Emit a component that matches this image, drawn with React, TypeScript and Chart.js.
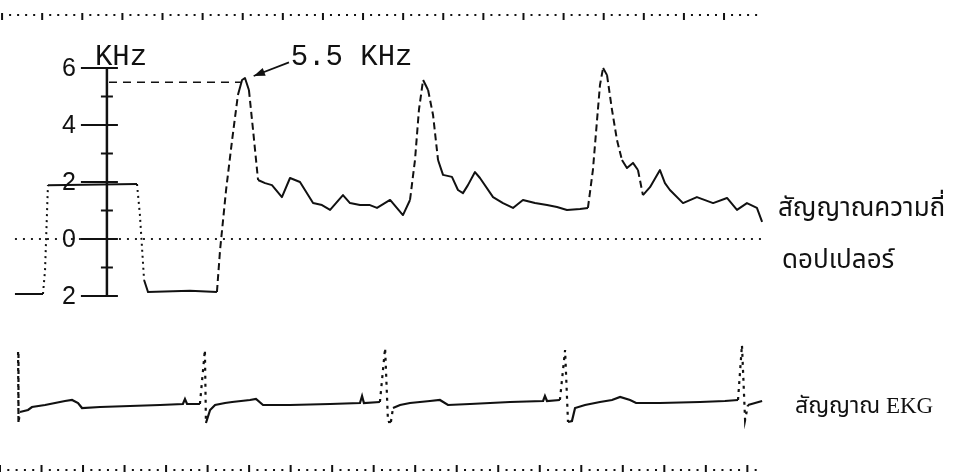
import React, { useEffect, useRef } from "react";
import { Chart, registerables } from "chart.js";

Chart.register(...registerables);

// ---------- data (time in s, Doppler in kHz, EKG in mV) ----------
const calibTime = [0.072, 0.207, 0.217, 0.231, 0.66, 0.674, 0.694, 0.713, 0.915, 1.045];
const calibKHz = [-1.93, -1.93, -1.09, 1.89, 1.93, 0.84, -1.44, -1.86, -1.82, -1.86];

const dopplerTime = [
  1.045, 1.06, 1.089, 1.118, 1.146, 1.166, 1.18, 1.199, 1.219, 1.243, 1.277, 1.31, 1.358, 1.397,
  1.445, 1.508, 1.551, 1.59, 1.652, 1.686, 1.734, 1.782, 1.816, 1.879, 1.941, 1.975, 1.999, 2.018,
  2.038, 2.062, 2.086, 2.11, 2.134, 2.177, 2.206, 2.23, 2.254, 2.288, 2.312, 2.375, 2.423, 2.471,
  2.519, 2.577, 2.635, 2.683, 2.731, 2.794, 2.832, 2.856, 2.876, 2.89, 2.905, 2.924, 2.948, 2.972,
  2.996, 3.02, 3.049, 3.073, 3.097, 3.131, 3.179, 3.203, 3.227, 3.29, 3.357, 3.435, 3.502, 3.55,
  3.598, 3.646, 3.671,
];
const dopplerKHz = [
  -1.86, -0.39, 1.72, 3.47, 5.05, 5.58, 5.65, 5.23, 3.82, 2.07, 1.96, 1.89, 1.47, 2.14,
  2.0, 1.26, 1.19, 1.02, 1.54, 1.26, 1.19, 1.19, 1.09, 1.37, 0.84, 1.37, 2.77, 4.53,
  5.58, 5.23, 4.35, 2.77, 2.25, 2.18, 1.72, 1.61, 1.89, 2.35, 2.14, 1.47, 1.26, 1.09,
  1.37, 1.26, 1.19, 1.12, 1.02, 1.05, 1.09, 2.42, 4.18, 5.4, 6.0, 5.75, 4.53, 3.47,
  2.77, 2.49, 2.67, 2.42, 1.54, 1.82, 2.42, 1.96, 1.72, 1.26, 1.47, 1.26, 1.44, 1.02,
  1.26, 1.09, 0.6,
];

const ekgTime = [
  0.087, 0.089, 0.096, 0.135, 0.154, 0.217, 0.265, 0.313, 0.347, 0.376, 0.395, 0.482, 0.626, 0.771,
  0.881, 0.891, 0.901, 0.963, 0.987, 0.992, 1.012, 1.036, 1.084, 1.118, 1.204, 1.233, 1.267, 1.397,
  1.59, 1.734, 1.744, 1.753, 1.83, 1.855, 1.869, 1.883, 1.893, 1.927, 1.975, 2.071, 2.119, 2.158,
  2.264, 2.457, 2.616, 2.625, 2.635, 2.697, 2.722, 2.736, 2.755, 2.77, 2.818, 2.89, 2.948, 2.987,
  3.035, 3.064, 3.179, 3.372, 3.492, 3.555, 3.574, 3.589, 3.603, 3.637, 3.671,
];
const ekgMV = [
  1.06, -0.36, -0.14, -0.1, -0.04, 0, 0.04, 0.08, 0.1, 0.04, -0.06, -0.04, -0.02, 0,
  0.02, 0.12, 0.02, 0.02, 1.1, -0.36, -0.1, 0, 0.04, 0.06, 0.1, 0.12, 0, 0,
  0.02, 0.04, 0.18, 0.04, 0.06, 1.14, -0.34, -0.34, -0.06, 0, 0.04, 0.08, 0.1, 0,
  0.02, 0.06, 0.08, 0.18, 0.08, 0.1, 1.1, -0.34, -0.32, -0.06, 0, 0.06, 0.1, 0.16,
  0.1, 0.04, 0.04, 0.06, 0.08, 0.1, 1.2, -0.3, 0, 0.04, 0.08,
];

const kHzTickValues = [-2, -1, 0, 1, 2, 3, 4, 5, 6];
const kHzMajorTicks = [-2, 0, 2, 4, 6];
const baselineKHz = 0;
const traceStart = 0.072;
const traceEnd = 3.671;
const peakKHz = 5.5;
const peakTime = 1.16;
const axisTime = 0.515;
const unitLabel = "KHz";
const peakLabel = "5.5 KHz";
const dopplerLabel = ["สัญญาณความถี่", "ดอปเปลอร์"];
const ekgLabel = "สัญญาณ EKG";

// ---------- layout constants ----------
const W = 955;
const H = 476;
const PX_PER_S = 207.6;
const PX_PER_KHZ = 28.5;
const KHZ_ZERO_PX = 239;
const PX_PER_MV = 50;
const MV_ZERO_PX = 405;

const THAI = "'Noto Sans Thai', 'Noto Serif Thai', 'Loma', 'Garuda', 'Norasi', 'Tlwg Typo', 'Kinnari', sans-serif";
const MONO = "'Liberation Mono', 'DejaVu Sans Mono', monospace";

const pts = (xs: number[], ys: number[]) => xs.map((x, i) => ({ x, y: ys[i] }));

const steepDash = (dash: number[]) => (ctx: any) => {
  const dx = Math.abs(ctx.p1.x - ctx.p0.x);
  const dy = Math.abs(ctx.p1.y - ctx.p0.y);
  return dy > 2.5 * dx + 6 ? dash : undefined;
};

const overlayPlugin = {
  id: "overlay",
  afterDatasetsDraw(chart: any) {
    const { ctx, scales } = chart;
    const x = scales.x;
    const y = scales.y;
    ctx.save();
    ctx.fillStyle = "#111";
    ctx.strokeStyle = "#111";

    // rulers (time marks)
    const ruler = (yPix: number, t0: number, step: number, up: boolean) => {
      const n = Math.floor((traceEnd - t0) / (step / 5) + 1e-6);
      for (let i = 0; i <= n; i++) {
        const px = x.getPixelForValue(t0 + (i * step) / 5);
        if (i % 5 === 0) {
          ctx.fillRect(px - 1, up ? yPix - 5 : yPix - 2, 2, 7);
        } else {
          ctx.fillRect(px - 1, yPix - 1, 2, 2);
        }
      }
    };
    ruler(15, 0.01, 0.1932, false);
    ruler(470, 0.0, 0.2, true);

    // KHz axis
    const ax = x.getPixelForValue(axisTime);
    ctx.lineWidth = 2.5;
    ctx.beginPath();
    ctx.moveTo(ax, y.getPixelForValue(-2));
    ctx.lineTo(ax, y.getPixelForValue(6));
    ctx.stroke();
    ctx.lineWidth = 2;
    ctx.font = "25px 'Liberation Sans', Arial, sans-serif";
    ctx.textAlign = "right";
    ctx.textBaseline = "middle";
    kHzTickValues.forEach((v) => {
      const py = y.getPixelForValue(v);
      const major = kHzMajorTicks.includes(v);
      ctx.beginPath();
      ctx.moveTo(ax - (major ? 26 : 6), py);
      ctx.lineTo(ax + (major ? 11 : 6), py);
      ctx.stroke();
      if (major) ctx.fillText(String(Math.abs(v)), ax - 31, py + 1);
    });

    // unit + peak annotation
    ctx.font = `29px ${MONO}`;
    ctx.textAlign = "left";
    ctx.textBaseline = "alphabetic";
    ctx.fillText(unitLabel, ax - 12, y.getPixelForValue(6.1));
    const tx = x.getPixelForValue(1.4);
    const ty = y.getPixelForValue(6.1);
    ctx.fillText(peakLabel, tx, ty);
    const ax0 = x.getPixelForValue(1.392);
    const ay0 = y.getPixelForValue(6.2);
    const ax1 = x.getPixelForValue(1.222);
    const ay1 = y.getPixelForValue(5.72);
    ctx.lineWidth = 1.8;
    ctx.beginPath();
    ctx.moveTo(ax0, ay0);
    ctx.lineTo(ax1, ay1);
    ctx.stroke();
    const ang = Math.atan2(ay1 - ay0, ax1 - ax0);
    ctx.beginPath();
    ctx.moveTo(ax1, ay1);
    ctx.lineTo(ax1 - 12 * Math.cos(ang - 0.35), ay1 - 12 * Math.sin(ang - 0.35));
    ctx.lineTo(ax1 - 12 * Math.cos(ang + 0.35), ay1 - 12 * Math.sin(ang + 0.35));
    ctx.closePath();
    ctx.fill();

    // Thai labels
    ctx.font = `26px ${THAI}`;
    ctx.fillText(dopplerLabel[0], 778, 216);
    ctx.fillText(dopplerLabel[1], 782, 268);
    ctx.font = `23px 'Liberation Serif', ${THAI}`;
    ctx.fillText(ekgLabel, 795, 413);
    ctx.restore();
  },
};

export default function App() {
  const ref = useRef<HTMLCanvasElement | null>(null);
  useEffect(() => {
    if (!ref.current) return;
    const chart = new Chart(ref.current, {
      type: "line",
      data: {
        datasets: [
          {
            label: "baseline",
            data: [
              { x: traceStart, y: baselineKHz },
              { x: traceEnd, y: baselineKHz },
            ],
            borderColor: "#222",
            borderWidth: 2,
            borderDash: [2, 6],
            pointRadius: 0,
            yAxisID: "y",
          },
          {
            label: "5.5 kHz",
            data: [
              { x: axisTime + 0.01, y: peakKHz },
              { x: peakTime, y: peakKHz },
            ],
            borderColor: "#111",
            borderWidth: 1.6,
            borderDash: [8, 6],
            pointRadius: 0,
            yAxisID: "y",
          },
          {
            label: "calibration",
            data: pts(calibTime, calibKHz),
            borderColor: "#111",
            borderWidth: 2,
            pointRadius: 0,
            tension: 0,
            yAxisID: "y",
            segment: { borderDash: steepDash([2, 4]) },
          },
          {
            label: "Doppler",
            data: pts(dopplerTime, dopplerKHz),
            borderColor: "#111",
            borderWidth: 2,
            pointRadius: 0,
            tension: 0,
            borderJoinStyle: "round",
            yAxisID: "y",
            segment: { borderDash: steepDash([7, 4]) },
          },
          {
            label: "EKG",
            data: pts(ekgTime, ekgMV),
            borderColor: "#111",
            borderWidth: 2.2,
            pointRadius: 0,
            tension: 0,
            yAxisID: "yE",
            segment: { borderDash: steepDash([3, 5]) },
          },
        ],
      },
      options: {
        animation: false,
        responsive: false,
        devicePixelRatio: 1,
        layout: { padding: 0 },
        plugins: { legend: { display: false }, tooltip: { enabled: false }, title: { display: false } },
        scales: {
          x: { type: "linear", display: false, min: 0, max: W / PX_PER_S },
          y: {
            type: "linear",
            display: false,
            min: -(H - KHZ_ZERO_PX) / PX_PER_KHZ,
            max: KHZ_ZERO_PX / PX_PER_KHZ,
          },
          yE: {
            type: "linear",
            display: false,
            min: -(H - MV_ZERO_PX) / PX_PER_MV,
            max: MV_ZERO_PX / PX_PER_MV,
          },
        },
      },
      plugins: [overlayPlugin],
    });
    return () => chart.destroy();
  }, []);
  return (
    <div style={{ position: "fixed", left: 0, top: 0, width: W, height: H, background: "#fff" }}>
      <canvas ref={ref} width={W} height={H} style={{ display: "block", width: W, height: H }} />
    </div>
  );
}
